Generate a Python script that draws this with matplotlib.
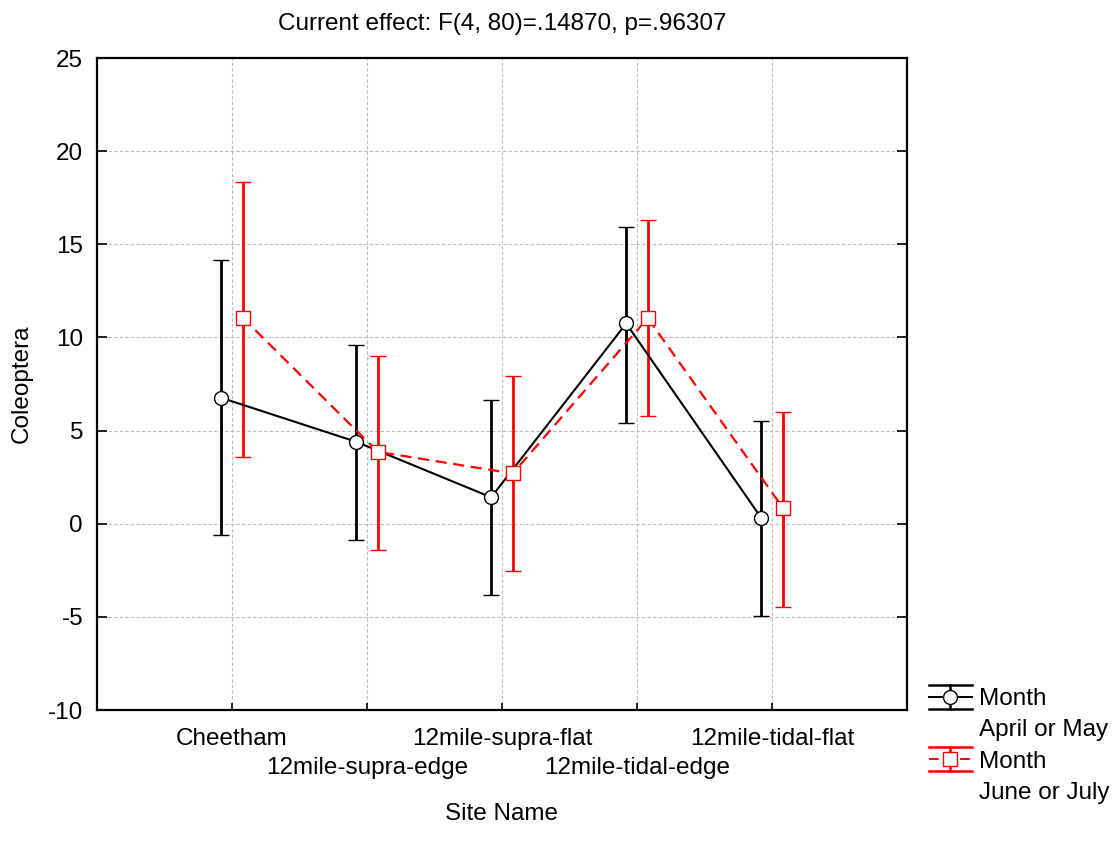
import numpy as np
import matplotlib
matplotlib.use("Agg")
import matplotlib.pyplot as plt
from matplotlib.lines import Line2D
from matplotlib.legend_handler import HandlerBase

plt.rcParams["font.family"] = ["Liberation Sans", "DejaVu Sans"]
plt.rcParams["axes.unicode_minus"] = False

SITES = ["Cheetham", "12mile-supra-edge", "12mile-supra-flat",
         "12mile-tidal-edge", "12mile-tidal-flat"]

# April or May
am_mean  = [6.76, 4.40, 1.42, 10.75, 0.32]
am_upper = [14.15, 9.59, 6.62, 15.92, 5.49]
am_lower = [-0.62, -0.85, -3.85, 5.40, -4.97]

# June or July
jj_mean  = [11.06, 3.86, 2.70, 11.04, 0.86]
jj_upper = [18.36, 8.98, 7.92, 16.30, 6.00]
jj_lower = [3.56, -1.42, -2.52, 5.81, -4.47]

TITLE = "Current effect: F(4, 80)=.14870, p=.96307"
FS = 17.5
DASH = (0, (5, 3))


class ErrHandle(HandlerBase):
    """Legend symbol: caps on top and bottom, bar, line and marker."""

    def __init__(self, color, ls, marker):
        super().__init__()
        self.color, self.ls, self.marker = color, ls, marker

    def create_artists(self, legend, orig_handle, xdescent, ydescent,
                       width, height, fontsize, trans):
        x0, x1 = -xdescent, -xdescent + width
        xm = (x0 + x1) / 2
        ym = -ydescent + height / 2
        h = height * 0.7
        arts = [
            Line2D([x0, x1], [ym + h, ym + h], color=self.color, lw=1.8),
            Line2D([x0, x1], [ym - h, ym - h], color=self.color, lw=1.8),
            Line2D([xm, xm], [ym - h, ym + h], color=self.color, lw=1.8),
            Line2D([x0, x1], [ym, ym], color=self.color, lw=1.4, ls=self.ls),
            Line2D([xm], [ym], marker=self.marker, markersize=10,
                   markerfacecolor="white", markeredgecolor=self.color,
                   markeredgewidth=1.0, ls="none"),
        ]
        for a in arts:
            a.set_transform(trans)
        return arts


fig = plt.figure(figsize=(11.16, 8.48), dpi=100)
ax = fig.add_axes([0.0869, 0.1627, 0.7258, 0.7689])

x = np.arange(1, len(SITES) + 1)
off = 0.08

am_mean, am_upper, am_lower = map(np.array, (am_mean, am_upper, am_lower))
jj_mean, jj_upper, jj_lower = map(np.array, (jj_mean, jj_upper, jj_lower))

ax.errorbar(x - off, am_mean, yerr=[am_mean - am_lower, am_upper - am_mean],
            color="black", lw=1.5, elinewidth=2.0, capsize=5.5, capthick=2.0,
            marker="o", markersize=10, markerfacecolor="white",
            markeredgecolor="black", markeredgewidth=1.0, zorder=3)
ax.errorbar(x + off, jj_mean, yerr=[jj_mean - jj_lower, jj_upper - jj_mean],
            color="red", lw=1.6, ls=DASH, elinewidth=2.0, capsize=5.5,
            capthick=2.0, marker="s", markersize=10, markerfacecolor="white",
            markeredgecolor="red", markeredgewidth=1.0, zorder=3)

ax.set_xlim(0, len(SITES) + 1)
ax.set_ylim(-10, 25)
ax.set_yticks(np.arange(-10, 26, 5))

# staggered site labels: even ones on major ticks, odd ones on minor ticks
ax.set_xticks(x[::2])
ax.set_xticklabels(SITES[::2])
ax.set_xticks(x[1::2], minor=True)
ax.set_xticklabels(SITES[1::2], minor=True)
ax.tick_params(axis="x", which="major", direction="in", length=5, width=1.2,
               labelsize=FS, pad=13)
ax.tick_params(axis="x", which="minor", direction="in", length=5, width=1.2,
               labelsize=FS, pad=34)
ax.tick_params(axis="y", direction="in", length=7, width=1.2, labelsize=FS,
               right=True, pad=10)

ax.grid(True, which="both", axis="x", color="#bbbbbb", ls=(0, (3, 2)), lw=0.8)
ax.grid(True, axis="y", color="#bbbbbb", ls=(0, (3, 2)), lw=0.8)
for s in ax.spines.values():
    s.set_linewidth(1.6)

ax.set_xlabel("Site Name", fontsize=FS, labelpad=17)
ax.set_ylabel("Coleoptera", fontsize=FS, labelpad=11)
ax.set_title(TITLE, fontsize=FS, pad=20)

blank = Line2D([], [], color="none")
h_am = Line2D([], [], color="black")
h_jj = Line2D([], [], color="red")
fig.legend([h_am, blank, h_jj, blank],
           ["Month", "April or May", "Month", "June or July"],
           handler_map={h_am: ErrHandle("black", "-", "o"),
                        h_jj: ErrHandle("red", DASH, "s")},
           loc="upper left", bbox_to_anchor=(0.8237, 0.200),
           frameon=False, fontsize=FS, handlelength=1.75, handletextpad=0.3,
           labelspacing=0.38, borderaxespad=0)

fig.savefig("out.png", dpi=100)
